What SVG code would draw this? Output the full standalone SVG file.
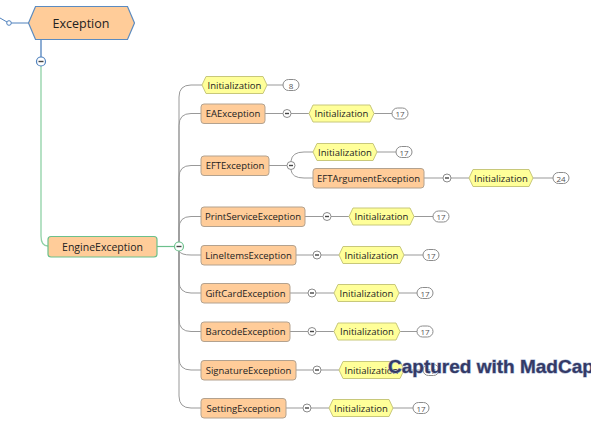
<svg xmlns="http://www.w3.org/2000/svg" width="591" height="428" viewBox="0 0 591 428">
<style>
.box{fill:#FFCC99;stroke:#B3A28F;stroke-width:1}
.hex{fill:#FFFF99;stroke:#C8C87A;stroke-width:1}
.badge{fill:#fff;stroke:#8C8C8C;stroke-width:1}
.ln{fill:none;stroke:#999;stroke-width:1}
.col{fill:#fff;stroke:#8C8C8C;stroke-width:1}
.mn{stroke:#444;stroke-width:1.4}
.t{font-family:"Open Sans","Noto Sans",sans-serif;font-size:9.5px;fill:#222;text-anchor:middle;dominant-baseline:central}
.bt{font-family:"Open Sans","Noto Sans",sans-serif;font-size:8px;fill:#555;text-anchor:middle;dominant-baseline:central}
</style>
<rect width="591" height="428" fill="#fff"/>
<g id="connectors">
  <path d="M0,18 L7,22" stroke="#4F81BD" fill="none"/>
  <circle cx="9" cy="23" r="2.3" fill="#fff" stroke="#4F81BD"/>
  <line x1="11.3" y1="23" x2="29" y2="23" stroke="#4F81BD"/>
  <line x1="41" y1="40" x2="41" y2="57" stroke="#4F81BD" stroke-width="1.3"/>
  <path d="M41,66 L41,236 Q41,246 48,246" fill="none" stroke="#8FD1A6" stroke-width="1.3"/>
  <line x1="157" y1="246.5" x2="174.5" y2="246.5" stroke="#6CC08C" stroke-width="1.2"/>
  <path class="ln" d="M179,242 L179,97 Q179,85 191,85 L202,85"/>
  <path class="ln" d="M179,242 L179,125.5 Q179,113.5 191,113.5 L201,113.5"/>
  <path class="ln" d="M179,242 L179,177.5 Q179,165.5 191,165.5 L201,165.5"/>
  <path class="ln" d="M179,242 L179,228.5 Q179,216.5 191,216.5 L201,216.5"/>
  <path class="ln" d="M179,251 Q181,255 191,255 L201,255"/>
  <path class="ln" d="M179,251 L179,281 Q179,293 191,293 L201,293"/>
  <path class="ln" d="M179,251 L179,319.5 Q179,331.5 191,331.5 L201,331.5"/>
  <path class="ln" d="M179,251 L179,358 Q179,370 191,370 L201,370"/>
  <path class="ln" d="M179,251 L179,396 Q179,408 191,408 L201,408"/>
  <line class="ln" x1="267" y1="85" x2="283" y2="85"/>
  <line class="ln" x1="265" y1="113.5" x2="283" y2="113.5"/><line class="ln" x1="291" y1="113.5" x2="309" y2="113.5"/><line class="ln" x1="374" y1="113.5" x2="392" y2="113.5"/>
  <line class="ln" x1="269" y1="165.5" x2="287" y2="165.5"/>
  <path class="ln" d="M291,161 Q292,152 304,152 L313,152"/>
  <path class="ln" d="M291,170 Q292,178 304,178 L313,178"/>
  <line class="ln" x1="377" y1="152" x2="396" y2="152"/>
  <line class="ln" x1="424" y1="178" x2="443" y2="178"/><line class="ln" x1="451" y1="178" x2="469" y2="178"/><line class="ln" x1="533" y1="178" x2="553" y2="178"/>
  <line class="ln" x1="305" y1="216.5" x2="323" y2="216.5"/><line class="ln" x1="331" y1="216.5" x2="349" y2="216.5"/><line class="ln" x1="414" y1="216.5" x2="433" y2="216.5"/>
  <line class="ln" x1="296" y1="255" x2="313" y2="255"/><line class="ln" x1="321" y1="255" x2="339" y2="255"/><line class="ln" x1="404" y1="255" x2="423" y2="255"/>
  <line class="ln" x1="290" y1="293" x2="308" y2="293"/><line class="ln" x1="316" y1="293" x2="334" y2="293"/><line class="ln" x1="399" y1="293" x2="417" y2="293"/>
  <line class="ln" x1="290" y1="331.5" x2="308" y2="331.5"/><line class="ln" x1="316" y1="331.5" x2="334" y2="331.5"/><line class="ln" x1="400" y1="331.5" x2="417" y2="331.5"/>
  <line class="ln" x1="296" y1="370" x2="313" y2="370"/><line class="ln" x1="321" y1="370" x2="339" y2="370"/><line class="ln" x1="404" y1="370" x2="423" y2="370"/>
  <line class="ln" x1="286" y1="408" x2="303" y2="408"/><line class="ln" x1="311" y1="408" x2="329" y2="408"/><line class="ln" x1="393" y1="408" x2="413" y2="408"/>
  <g id="collapsers">
    <circle cx="41" cy="61.5" r="4.5" fill="#fff" stroke="#4F81BD" stroke-width="1.2"/><line class="mn" x1="38.5" y1="61.5" x2="43.5" y2="61.5"/>
    <circle cx="179" cy="246.5" r="4.5" fill="#fff" stroke="#6CC08C" stroke-width="1.2"/><line class="mn" x1="176.5" y1="246.5" x2="181.5" y2="246.5"/>
    <circle class="col" cx="287" cy="113.5" r="4"/><line class="mn" x1="285" y1="113.5" x2="289" y2="113.5"/>
    <circle class="col" cx="291" cy="165.5" r="4"/><line class="mn" x1="289" y1="165.5" x2="293" y2="165.5"/>
    <circle class="col" cx="447" cy="178" r="4"/><line class="mn" x1="445" y1="178" x2="449" y2="178"/>
    <circle class="col" cx="327" cy="216.5" r="4"/><line class="mn" x1="325" y1="216.5" x2="329" y2="216.5"/>
    <circle class="col" cx="317" cy="255" r="4"/><line class="mn" x1="315" y1="255" x2="319" y2="255"/>
    <circle class="col" cx="312" cy="293" r="4"/><line class="mn" x1="310" y1="293" x2="314" y2="293"/>
    <circle class="col" cx="312" cy="331.5" r="4"/><line class="mn" x1="310" y1="331.5" x2="314" y2="331.5"/>
    <circle class="col" cx="317" cy="370" r="4"/><line class="mn" x1="315" y1="370" x2="319" y2="370"/>
    <circle class="col" cx="307" cy="408" r="4"/><line class="mn" x1="305" y1="408" x2="309" y2="408"/>
  </g>
</g>
<g id="n-exception">
  <polygon points="28.5,23 35.5,6.5 127.5,6.5 134.5,23 127.5,39.5 35.5,39.5" fill="#FFCC99" stroke="#5B8BC0" stroke-width="1.2"/>
  <text x="81" y="23" class="t" style="font-size:12.5px">Exception</text>
</g>
<g id="n-engine">
  <rect x="48" y="236.5" width="109" height="20.5" rx="3" fill="#FFCC99" stroke="#6CC08C" stroke-width="1.2"/>
  <text x="102.5" y="246.5" class="t" style="font-size:10.5px">EngineException</text>
</g>
<g id="n-init1">
  <polygon class="hex" points="202,85 206,76.5 263,76.5 267,85 263,93.5 206,93.5"/><text x="234.5" y="85" class="t">Initialization</text>
  <rect class="badge" x="283" y="79.5" width="16" height="11" rx="5.5"/><text x="291" y="85" class="bt">8</text>
</g>
<g id="n-ea">
  <rect class="box" x="201" y="104" width="64" height="19.5" rx="3"/><text x="233" y="113.5" class="t">EAException</text>
  <polygon class="hex" points="309,113.5 313,105 370,105 374,113.5 370,122 313,122"/><text x="341.5" y="113.5" class="t">Initialization</text>
  <rect class="badge" x="392" y="108" width="16" height="11" rx="5.5"/><text x="400" y="113.5" class="bt">17</text>
</g>
<g id="n-eft">
  <rect class="box" x="201" y="156" width="68" height="19.5" rx="3"/><text x="235" y="165.5" class="t">EFTException</text>
  <polygon class="hex" points="313,152 317,143.5 373,143.5 377,152 373,160.5 317,160.5"/><text x="345" y="152" class="t">Initialization</text>
  <rect class="badge" x="396" y="146.5" width="16" height="11" rx="5.5"/><text x="404" y="152" class="bt">17</text>
</g>
<g id="n-eftarg">
  <rect class="box" x="313" y="168.5" width="111" height="19.5" rx="3"/><text x="368.5" y="178" class="t">EFTArgumentException</text>
  <polygon class="hex" points="469,178 473,169.5 529,169.5 533,178 529,186.5 473,186.5"/><text x="501" y="178" class="t">Initialization</text>
  <rect class="badge" x="553" y="172.5" width="16" height="11" rx="5.5"/><text x="561" y="178" class="bt">24</text>
</g>
<g id="n-print">
  <rect class="box" x="201" y="207" width="104" height="19.5" rx="3"/><text x="253" y="216.5" class="t">PrintServiceException</text>
  <polygon class="hex" points="349,216.5 353,208 410,208 414,216.5 410,225 353,225"/><text x="381.5" y="216.5" class="t">Initialization</text>
  <rect class="badge" x="433" y="211" width="16" height="11" rx="5.5"/><text x="441" y="216.5" class="bt">17</text>
</g>
<g id="n-lineitems">
  <rect class="box" x="201" y="245.5" width="95" height="19.5" rx="3"/><text x="248.5" y="255" class="t">LineItemsException</text>
  <polygon class="hex" points="339,255 343,246.5 400,246.5 404,255 400,263.5 343,263.5"/><text x="371.5" y="255" class="t">Initialization</text>
  <rect class="badge" x="423" y="249.5" width="16" height="11" rx="5.5"/><text x="431" y="255" class="bt">17</text>
</g>
<g id="n-giftcard">
  <rect class="box" x="201" y="283.5" width="89" height="19.5" rx="3"/><text x="245.5" y="293" class="t">GiftCardException</text>
  <polygon class="hex" points="334,293 338,284.5 395,284.5 399,293 395,301.5 338,301.5"/><text x="366.5" y="293" class="t">Initialization</text>
  <rect class="badge" x="417" y="287.5" width="16" height="11" rx="5.5"/><text x="425" y="293" class="bt">17</text>
</g>
<g id="n-barcode">
  <rect class="box" x="201" y="322" width="89" height="19.5" rx="3"/><text x="245.5" y="331.5" class="t">BarcodeException</text>
  <polygon class="hex" points="334,331.5 338,323 396,323 400,331.5 396,340 338,340"/><text x="367" y="331.5" class="t">Initialization</text>
  <rect class="badge" x="417" y="326" width="16" height="11" rx="5.5"/><text x="425" y="331.5" class="bt">17</text>
</g>
<g id="n-signature">
  <rect class="box" x="201" y="360.5" width="95" height="19.5" rx="3"/><text x="248.5" y="370" class="t">SignatureException</text>
  <polygon class="hex" points="339,370 343,361.5 400,361.5 404,370 400,378.5 343,378.5"/><text x="371.5" y="370" class="t">Initialization</text>
  <rect class="badge" x="423" y="364.5" width="16" height="11" rx="5.5"/><text x="431" y="370" class="bt">17</text>
</g>
<g id="n-setting">
  <rect class="box" x="201" y="398.5" width="85" height="19.5" rx="3"/><text x="243.5" y="408" class="t">SettingException</text>
  <polygon class="hex" points="329,408 333,399.5 389,399.5 393,408 389,416.5 333,416.5"/><text x="361" y="408" class="t">Initialization</text>
  <rect class="badge" x="413" y="402.5" width="16" height="11" rx="5.5"/><text x="421" y="408" class="bt">17</text>
</g>
<text x="388" y="373" font-family="'Liberation Sans',Arial,sans-serif" font-size="19" font-weight="bold" fill="#343a66" stroke="#9fb0d0" stroke-width="1" paint-order="stroke">Captured with MadCap</text>
</svg>
